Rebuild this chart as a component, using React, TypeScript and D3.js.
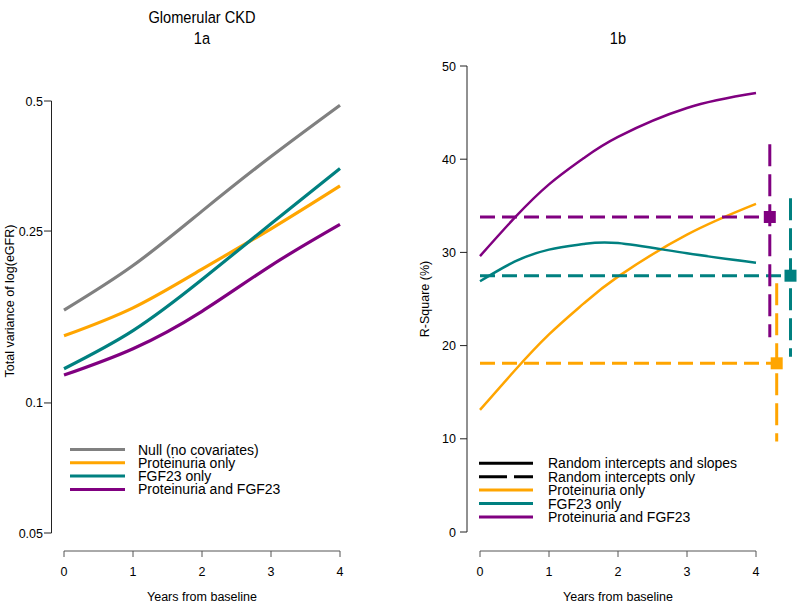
import React from 'react';
import * as d3 from 'd3';

// ---- Data ----
const yearsA = [0, 1, 2, 3, 4];
const nullVar = [0.164, 0.208, 0.278, 0.372, 0.489];
const protVar = [0.143, 0.166, 0.204, 0.253, 0.318];
const fgfVar = [0.12, 0.147, 0.193, 0.26, 0.349];
const bothVar = [0.116, 0.1335, 0.163, 0.208, 0.259];

const yearsB = [0, 0.5, 1, 1.5, 2, 3, 4];
const protR2 = [13.1, 17.3, 21.2, 24.5, 27.4, 31.9, 35.2];
const fgfR2 = [26.9, 29.0, 30.3, 30.9, 31.0, 29.9, 28.9];
const bothR2 = [29.6, 33.7, 37.3, 40.1, 42.4, 45.5, 47.1];

// Random intercepts only: point estimate and interval (prot, fgf, both)
const interceptX = [4.3, 4.5, 4.2];
const interceptR2 = [18.1, 27.5, 33.8];
const interceptLo = [9.7, 18.8, 20.9];
const interceptHi = [26.7, 35.8, 41.6];

const xTicks = [0, 1, 2, 3, 4];
const yTicksA = [0.05, 0.1, 0.25, 0.5];
const yTickLabelsA = ['0.05', '0.1', '0.25', '0.5'];
const yTicksB = [0, 10, 20, 30, 40, 50];

const legendA = ['Null (no covariates)', 'Proteinuria only', 'FGF23 only', 'Proteinuria and FGF23'];
const legendB = ['Random intercepts and slopes', 'Random intercepts only', 'Proteinuria only', 'FGF23 only', 'Proteinuria and FGF23'];

const GRAY = '#808080';
const ORANGE = '#FFA500';
const TEAL = '#008080';
const PURPLE = '#800080';

const FONT = '"Liberation Sans", Arial, sans-serif';

export default function App() {
  const xA = d3.scaleLinear().domain([0, 4]).range([64, 340]);
  const yA = d3.scaleLog().domain([0.05, 0.5]).range([533, 101]);
  const xB = d3.scaleLinear().domain([0, 4]).range([480, 756]);
  const yB = d3.scaleLinear().domain([0, 50]).range([532, 66]);

  const lineA = (vals: number[]) =>
    d3.line<number>().x((_, i) => xA(yearsA[i])).y((d) => yA(d)).curve(d3.curveNatural)(vals) || '';
  const lineB = (vals: number[]) =>
    d3.line<number>().x((_, i) => xB(yearsB[i])).y((d) => yB(d)).curve(d3.curveNatural)(vals) || '';

  const seriesA = [
    { v: nullVar, c: GRAY },
    { v: protVar, c: ORANGE },
    { v: fgfVar, c: TEAL },
    { v: bothVar, c: PURPLE },
  ];
  const seriesB = [
    { v: protR2, c: ORANGE },
    { v: fgfR2, c: TEAL },
    { v: bothR2, c: PURPLE },
  ];
  const ciColors = [ORANGE, TEAL, PURPLE];

  const axisY = 551;
  const sq = 12;

  return (
    <svg width={800} height={607} style={{ position: 'absolute', left: 0, top: 0, background: '#fff' }} fontFamily={FONT}>
      <rect x={0} y={0} width={800} height={607} fill="#fff" />
      {/* Titles */}
      <g transform="translate(202,0) scale(0.86,1)">
        <text x={0} y={23} fontSize={17} textAnchor="middle">Glomerular CKD</text>
        <text x={0} y={44} fontSize={17} textAnchor="middle">1a</text>
      </g>
      <g transform="translate(618,0) scale(0.86,1)">
        <text x={0} y={44} fontSize={17} textAnchor="middle">1b</text>
      </g>

      {/* ---------- Panel 1a ---------- */}
      <line x1={51.5} x2={51.5} y1={yA(0.5)} y2={yA(0.05)} stroke="#222" strokeWidth={1} />
      {yTicksA.map((t, i) => (
        <g key={t}>
          <line x1={44} x2={51.5} y1={yA(t)} y2={yA(t)} stroke="#222" strokeWidth={1} />
          <text x={43} y={yA(t) + 4.5} fontSize={12.5} textAnchor="end">{yTickLabelsA[i]}</text>
        </g>
      ))}
      <text transform={`translate(14,301) rotate(-90)`} fontSize={12.5} textAnchor="middle">Total variance of log(eGFR)</text>
      <line x1={xA(0)} x2={xA(4)} y1={axisY} y2={axisY} stroke="#555" strokeWidth={1} />
      {xTicks.map((t) => (
        <g key={t}>
          <line x1={xA(t)} x2={xA(t)} y1={axisY} y2={axisY + 6} stroke="#555" strokeWidth={1} />
          <text x={xA(t)} y={576} fontSize={12.5} textAnchor="middle">{t}</text>
        </g>
      ))}
      <text x={202} y={601} fontSize={12.5} textAnchor="middle">Years from baseline</text>
      {seriesA.map((s, i) => (
        <path key={i} d={lineA(s.v)} fill="none" stroke={s.c} strokeWidth={3.2} />
      ))}
      {legendA.map((l, i) => (
        <g key={l}>
          <line x1={70} x2={125} y1={449.5 + i * 13.3} y2={449.5 + i * 13.3} stroke={seriesA[i].c} strokeWidth={3} />
          <text x={138} y={449.5 + i * 13.3 + 5} fontSize={14}>{l}</text>
        </g>
      ))}

      {/* ---------- Panel 1b ---------- */}
      <line x1={467} x2={467} y1={yB(50)} y2={yB(0)} stroke="#222" strokeWidth={1} />
      {yTicksB.map((t) => (
        <g key={t}>
          <line x1={460} x2={467} y1={yB(t)} y2={yB(t)} stroke="#222" strokeWidth={1} />
          <text x={456} y={yB(t) + 4.5} fontSize={12.5} textAnchor="end">{t}</text>
        </g>
      ))}
      <text transform={`translate(429,299) rotate(-90)`} fontSize={12.5} textAnchor="middle">R-Square (%)</text>
      <line x1={xB(0)} x2={xB(4)} y1={axisY} y2={axisY} stroke="#555" strokeWidth={1} />
      {xTicks.map((t) => (
        <g key={t}>
          <line x1={xB(t)} x2={xB(t)} y1={axisY} y2={axisY + 6} stroke="#555" strokeWidth={1} />
          <text x={xB(t)} y={576} fontSize={12.5} textAnchor="middle">{t}</text>
        </g>
      ))}
      <text x={618} y={601} fontSize={12.5} textAnchor="middle">Years from baseline</text>

      {seriesB.map((s, i) => (
        <path key={i} d={lineB(s.v)} fill="none" stroke={s.c} strokeWidth={2.5} />
      ))}
      {interceptX.map((xv, i) => (
        <g key={i}>
          <line x1={xB(0)} x2={xB(xv)} y1={yB(interceptR2[i])} y2={yB(interceptR2[i])} stroke={ciColors[i]} strokeWidth={3} strokeDasharray="15 7" />
          <line x1={xB(xv)} x2={xB(xv)} y1={yB(interceptHi[i])} y2={yB(interceptLo[i])} stroke={ciColors[i]} strokeWidth={3} strokeDasharray="22 8" />
          <rect x={xB(xv) - sq / 2} y={yB(interceptR2[i]) - sq / 2} width={sq} height={sq} fill={ciColors[i]} />
        </g>
      ))}
      {legendB.map((l, i) => {
        const y = 463.3 + i * 13.4;
        const col = i < 2 ? '#000' : ciColors[i - 2];
        return (
          <g key={l}>
            <line x1={479} x2={533} y1={y} y2={y} stroke={col} strokeWidth={3} strokeDasharray={i === 1 ? '28 7' : undefined} />
            <text x={548} y={y + 5} fontSize={14}>{l}</text>
          </g>
        );
      })}
    </svg>
  );
}
